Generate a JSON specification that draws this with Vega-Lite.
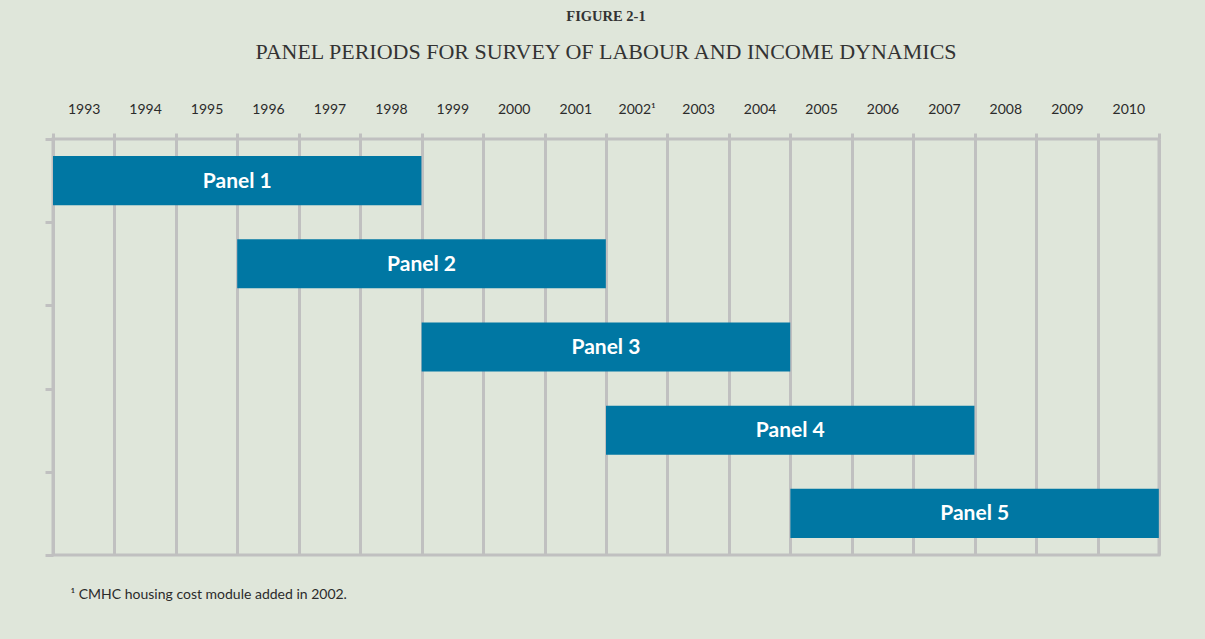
{
  "$schema": "https://vega.github.io/schema/vega-lite/v6.json",
  "width": 1106,
  "height": 416,
  "autosize": {"type": "none"},
  "padding": {"left": 53, "top": 139, "right": 46, "bottom": 84},
  "background": "#dfe6da",
  "title": {
    "text": "FIGURE 2-1",
    "subtitle": "PANEL PERIODS FOR SURVEY OF LABOUR AND INCOME DYNAMICS",
    "anchor": "middle",
    "font": "Liberation Serif",
    "fontSize": 14.5,
    "fontWeight": "bold",
    "color": "#333333",
    "subtitleFont": "Liberation Serif",
    "subtitleFontSize": 22,
    "subtitleColor": "#333333",
    "subtitlePadding": 18,
    "offset": 38
  },
  "data": {
    "values": [
      {"panel": "Panel 1", "start": "1993-01-01", "end": "1998-12-31"},
      {"panel": "Panel 2", "start": "1996-01-01", "end": "2001-12-31"},
      {"panel": "Panel 3", "start": "1999-01-01", "end": "2004-12-31"},
      {"panel": "Panel 4", "start": "2002-01-01", "end": "2007-12-31"},
      {"panel": "Panel 5", "start": "2005-01-01", "end": "2010-12-31"}
    ]
  },
  "resolve": {"axis": {"x": "independent"}},
  "layer": [
    {
      "mark": {"type": "bar", "color": "#0077a3", "cornerRadius": 0, "height": {"band": 0.59}},
      "encoding": {
        "x": {
          "field": "start",
          "type": "temporal",
          "scale": {
            "type": "utc",
            "domain": [
              {"year": 1993, "month": 1, "date": 1, "utc": true},
              {"year": 2011, "month": 1, "date": 1, "utc": true}
            ],
            "nice": false
          },
          "axis": {
            "orient": "top",
            "title": null,
            "tickCount": {"interval": "year", "step": 1},
            "format": "%Y",
            "labelExpr": "utcyear(datum.value) == 2011 ? '' : (utcyear(datum.value) == 2002 ? '2002¹' : datum.label)",
            "labelOffset": 30.7,
            "labelPadding": 17,
            "labelFont": "Lato",
            "labelFontSize": 14,
            "labelColor": "#2b2b2b",
            "labelFlush": false,
            "labelOverlap": false,
            "domain": false,
            "ticks": true,
            "tickSize": 6,
            "tickWidth": 3,
            "tickColor": "#c0c0c0",
            "grid": true,
            "gridColor": "#c0c0c0",
            "gridWidth": 3,
            "gridOpacity": 1
          }
        },
        "x2": {"field": "end"},
        "y": {
          "field": "panel",
          "type": "nominal",
          "sort": ["Panel 1", "Panel 2", "Panel 3", "Panel 4", "Panel 5"],
          "scale": {"paddingInner": 0, "paddingOuter": 0},
          "axis": {
            "title": null,
            "labels": false,
            "domain": false,
            "ticks": true,
            "tickBand": "extent",
            "tickSize": 8,
            "tickWidth": 3,
            "tickColor": "#c0c0c0",
            "grid": false
          }
        }
      }
    },
    {
      "mark": {
        "type": "text",
        "color": "#ffffff",
        "font": "Lato",
        "fontSize": 21,
        "fontWeight": "bold",
        "align": "center",
        "baseline": "middle",
        "dx": 184.3,
        "dy": 1
      },
      "encoding": {
        "x": {
          "field": "start",
          "type": "temporal",
          "axis": {
            "orient": "bottom",
            "title": "¹ CMHC housing cost module added in 2002.",
            "titleFont": "Lato",
            "titleFontSize": 14,
            "titleFontWeight": "normal",
            "titleColor": "#2b2b2b",
            "titleAnchor": "start",
            "titleAlign": "left",
            "titleX": 17,
            "titleY": 32,
            "labels": false,
            "ticks": false,
            "domain": false,
            "grid": false
          }
        },
        "y": {"field": "panel", "type": "nominal", "sort": ["Panel 1", "Panel 2", "Panel 3", "Panel 4", "Panel 5"]},
        "text": {"field": "panel"}
      }
    }
  ],
  "config": {
    "view": {"stroke": "#c0c0c0", "strokeWidth": 3}
  }
}
